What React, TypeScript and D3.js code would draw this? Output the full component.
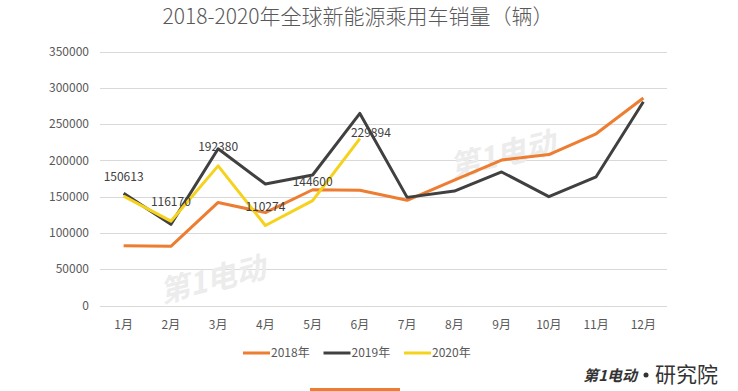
import React, { useEffect, useRef } from "react";
import * as d3 from "d3";

const months = ["1月", "2月", "3月", "4月", "5月", "6月", "7月", "8月", "9月", "10月", "11月", "12月"];
const sales2018 = [82400, 81500, 142000, 128000, 159500, 158700, 145000, 172800, 200400, 208000, 236600, 286000];
const sales2019 = [154500, 111800, 216000, 167400, 179800, 264700, 149000, 157700, 184000, 150000, 177400, 280700];
const sales2020 = [150613, 116170, 192380, 110274, 144600, 229894];
const yTicks = [0, 50000, 100000, 150000, 200000, 250000, 300000, 350000];

const series = [
  { name: "2018年", values: sales2018, color: "#ED7D31" },
  { name: "2019年", values: sales2019, color: "#404040" },
  { name: "2020年", values: sales2020, color: "#F5D21C" },
];

const App = () => {
  const ref = useRef<SVGSVGElement>(null);

  useEffect(() => {
    const width = 738;
    const height = 391;
    const svg = d3.select(ref.current);
    svg.selectAll("*").remove();
    svg.attr("width", width).attr("height", height);

    const font = "'Microsoft YaHei', 'Noto Sans CJK SC', sans-serif";

    svg.append("rect").attr("width", width).attr("height", height).attr("fill", "#fff");

    const x = d3.scaleBand().domain(months).range([100, 667]);
    const y = d3.scaleLinear().domain([0, 350000]).range([305.5, 51.5]);
    const cx = (m: string) => (x(m) as number) + x.bandwidth() / 2;

    // title
    svg
      .append("text")
      .attr("x", 358)
      .attr("y", 24)
      .attr("text-anchor", "middle")
      .attr("font-family", font)
      .attr("font-size", 21)
      .attr("font-weight", 300)
      .attr("fill", "#595959")
      .text("2018-2020年全球新能源乘用车销量（辆）");

    // grid
    svg
      .append("g")
      .selectAll("line")
      .data(yTicks)
      .enter()
      .append("line")
      .attr("x1", 100)
      .attr("x2", 667)
      .attr("y1", (d) => Math.round(y(d)) + 0.5)
      .attr("y2", (d) => Math.round(y(d)) + 0.5)
      .attr("stroke", "#d9d9d9")
      .attr("stroke-width", 1);

    // y labels
    svg
      .append("g")
      .selectAll("text")
      .data(yTicks)
      .enter()
      .append("text")
      .attr("x", 89)
      .attr("y", (d) => y(d))
      .attr("dy", "0.35em")
      .attr("text-anchor", "end")
      .attr("font-family", font)
      .attr("font-size", 12)
      .attr("fill", "#595959")
      .text((d) => d);

    // x labels
    svg
      .append("g")
      .selectAll("text")
      .data(months)
      .enter()
      .append("text")
      .attr("x", cx)
      .attr("y", 325)
      .attr("dy", "0.35em")
      .attr("text-anchor", "middle")
      .attr("font-family", font)
      .attr("font-size", 12)
      .attr("fill", "#595959")
      .text((d) => d);

    // watermarks
    const marks = [
      { x: 215, y: 290 },
      { x: 505, y: 165 },
    ];
    marks.forEach((m) => {
      svg
        .append("text")
        .attr("transform", `translate(${m.x},${m.y}) rotate(-14)`)
        .attr("text-anchor", "middle")
        .attr("font-family", font)
        .attr("font-size", 30)
        .attr("font-weight", "bold")
        .attr("font-style", "italic")
        .attr("fill", "#ececec")
        .text("第1电动");
    });

    const line = d3
      .line<number>()
      .x((d, i) => cx(months[i]))
      .y((d) => y(d));

    series.forEach((s) => {
      svg
        .append("path")
        .datum(s.values)
        .attr("d", line)
        .attr("fill", "none")
        .attr("stroke", s.color)
        .attr("stroke-width", 3)
        .attr("stroke-linejoin", "round");
    });

    // 2020 labels
    const labelDx = [0, 0, 0, 0, 0, 11];
    svg
      .append("g")
      .selectAll("text")
      .data(sales2020)
      .enter()
      .append("text")
      .attr("x", (d, i) => cx(months[i]) + labelDx[i])
      .attr("y", (d, i) => y(d) - (i === 5 ? 6 : 19))
      .attr("dy", "0.35em")
      .attr("text-anchor", "middle")
      .attr("font-family", font)
      .attr("font-size", 12)
      .attr("fill", "#404040")
      .text((d) => d);

    // legend
    const legend = svg.append("g").attr("transform", "translate(243,353)");
    series.forEach((s, i) => {
      const g = legend.append("g").attr("transform", `translate(${i * 80.5},0)`);
      g.append("line").attr("x1", 0).attr("x2", 27).attr("stroke", s.color).attr("stroke-width", 3);
      g.append("text")
        .attr("x", 28)
        .attr("dy", "0.35em")
        .attr("font-family", font)
        .attr("font-size", 12)
        .attr("fill", "#595959")
        .text(s.name);
    });

    // footer logo
    svg
      .append("text")
      .attr("x", 637)
      .attr("y", 381)
      .attr("text-anchor", "end")
      .attr("font-family", font)
      .attr("font-size", 15)
      .attr("font-weight", "bold")
      .attr("font-style", "italic")
      .attr("fill", "#333")
      .text("第1电动");
    svg
      .append("circle")
      .attr("cx", 646)
      .attr("cy", 375)
      .attr("r", 2.5)
      .attr("fill", "#333");
    svg
      .append("text")
      .attr("x", 655)
      .attr("y", 382)
      .attr("font-family", font)
      .attr("font-size", 21)
      .attr("fill", "#333")
      .text("研究院");

    svg.append("rect").attr("x", 310).attr("y", 388).attr("width", 90).attr("height", 3).attr("fill", "#ED7D31");
  }, []);

  return <svg ref={ref} style={{ position: "absolute", left: 0, top: 0 }}></svg>;
};

export default App;
